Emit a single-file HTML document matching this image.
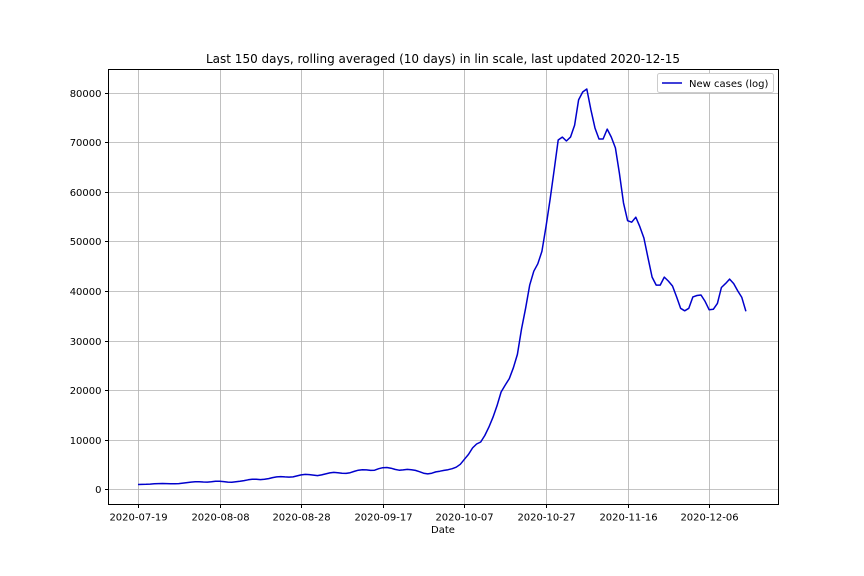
<!DOCTYPE html>
<html><head><meta charset="utf-8"><style>
html,body{margin:0;padding:0;background:#fff;}
svg{display:block;font-family:"DejaVu Sans","Liberation Sans",sans-serif;}
</style></head><body>
<svg id="chart" width="864" height="576">
<rect width="864" height="576" fill="#fff"/>
<text x="443" y="63" text-anchor="middle" font-size="12" fill="#000">Last 150 days, rolling averaged (10 days) in lin scale, last updated 2020-12-15</text>
<g id="grid"></g><g id="axes"></g><g id="series"></g>
<rect x="108.5" y="69.5" width="670" height="435" fill="none" stroke="#000" stroke-width="1"/>
<text x="443" y="533" text-anchor="middle" font-size="10">Date</text>
<g>
<rect x="657.5" y="73.5" width="116" height="19" rx="2" fill="#fff" stroke="#ccc"/>
<line x1="662" y1="83" x2="682" y2="83" stroke="#0000cc" stroke-width="1.5"/>
<text x="689" y="87" font-size="10">New cases (log)</text>
</g>
</svg>
<script>
const startDate = "2020-07-19";
const xTickDays = [0,20,40,60,80,100,120,140];
const xTickLabels = ["2020-07-19","2020-08-08","2020-08-28","2020-09-17","2020-10-07","2020-10-27","2020-11-16","2020-12-06"];
const yTicks = [0,10000,20000,30000,40000,50000,60000,70000,80000];
const newCases = [
900,920,950,1000,1050,1100,1120,1100,1080,1050,
1100,1200,1300,1400,1450,1450,1420,1400,1450,1550,
1550,1500,1400,1350,1450,1550,1700,1850,1950,1950,
1900,1950,2100,2300,2450,2500,2450,2400,2450,2650,
2850,2950,2900,2800,2700,2850,3050,3250,3350,3300,
3200,3150,3300,3550,3800,3900,3850,3750,3800,4100,
4300,4350,4200,3950,3800,3850,3950,3900,3750,3500,
3200,3050,3200,3450,3600,3750,3900,4100,4400,5000,
6000,7000,8300,9100,9500,10800,12500,14500,16800,19600,
21000,22300,24500,27200,32300,36500,41200,44000,45500,48000,
53000,58500,64500,70500,71100,70300,71100,73500,78600,80200,
80800,76600,72900,70700,70700,72700,71100,68900,63800,57800,
54200,53900,54900,53000,50700,46700,42800,41200,41200,42800,
42000,41000,38800,36500,36000,36500,38800,39100,39200,37900,
36200,36300,37500,40700,41500,42400,41500,40000,38700,35900];

const NS="http://www.w3.org/2000/svg";
const L=108.5,R=778.5,T=69.5,B=504.5;
const xScale=d=>138+d*4.08;
const yScale=v=>489-v*(396/80000);
function mk(tag,attrs,parent){const e=document.createElementNS(NS,tag);for(const k in attrs)e.setAttribute(k,attrs[k]);parent.appendChild(e);return e;}
const grid=document.getElementById('grid'),axes=document.getElementById('axes'),series=document.getElementById('series');
xTickDays.forEach((d,i)=>{
  const x=Math.round(xScale(d))+0.5;
  const g=mk('line',{x1:x,x2:x,y1:T,y2:B,stroke:'#b0b0b0','stroke-width':0.8},grid);
  
  
  const t=mk('line',{x1:x,x2:x,y1:B,y2:B+3.5,stroke:'#000'},axes);
  
  
  const l=mk('text',{x:x,y:B+16,'text-anchor':'middle','font-size':10},axes);
  l.textContent=xTickLabels[i];
  
  
});
yTicks.forEach(v=>{
  const y=Math.round(yScale(v))+0.5;
  const g=mk('line',{x1:L,x2:R,y1:y,y2:y,stroke:'#b0b0b0','stroke-width':0.8},grid);
  
  
  const t=mk('line',{x1:L-3.5,x2:L,y1:y,y2:y,stroke:'#000'},axes);
  
  
  const l=mk('text',{x:L-7,y:y+3.5,'text-anchor':'end','font-size':10},axes);
  l.textContent=String(v);
  
  
});
const pts=newCases.map((v,i)=>xScale(i).toFixed(1)+','+yScale(v).toFixed(1)).join(' ');
const line=mk('polyline',{points:pts,fill:'none',stroke:'#0000cc','stroke-width':1.5,'stroke-linejoin':'round'},series);


</script>
</body></html>
